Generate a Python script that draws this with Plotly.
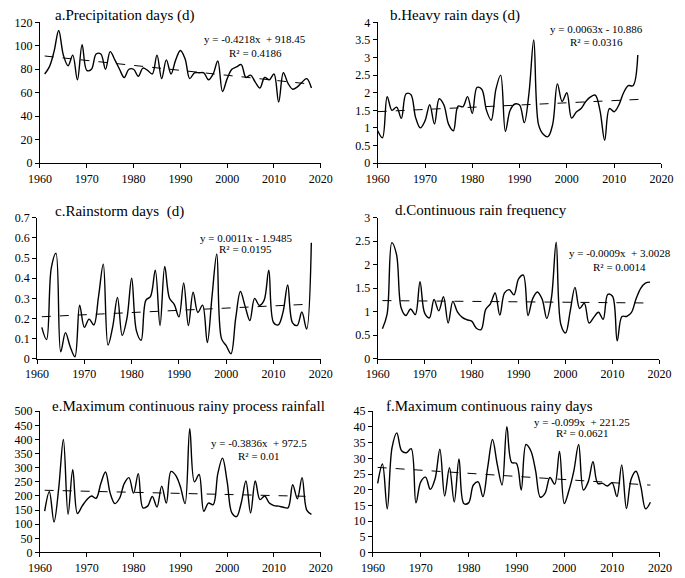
import plotly.graph_objects as go
from plotly.subplots import make_subplots

W, H = 685, 578

years = list(range(1961, 2019))
years_b = list(range(1960, 2016))

precip_days = [76, 82, 95, 113, 92, 83, 92, 71, 101, 79, 80, 93, 93, 80, 95, 88, 80, 73, 80, 80,
               74, 81, 79, 76, 92, 72, 88, 76, 88, 96, 89, 72, 77, 77, 77, 71, 76, 87, 61, 72,
               80, 82, 84, 73, 75, 69, 64, 73, 71, 76, 52, 77, 68, 63, 65, 69, 72, 64]

heavy_rain_days = [0.92, 0.72, 1.89, 1.50, 1.59, 1.27, 1.97, 1.95, 1.30, 1.00, 1.20, 1.66, 1.11, 1.83,
                   1.65, 1.10, 0.92, 1.62, 1.60, 1.89, 1.41, 2.15, 2.10, 1.50, 1.22, 2.10, 2.50, 0.90,
                   1.50, 1.68, 1.65, 1.15, 2.00, 3.50, 1.10, 0.82, 0.75, 1.10, 2.25, 1.75, 2.00, 1.28,
                   1.45, 1.55, 1.75, 1.88, 1.93, 1.50, 0.65, 1.55, 1.46, 1.65, 2.00, 2.20, 2.20, 3.07]

rainstorm_days = [0.156, 0.095, 0.45, 0.524, 0.035, 0.13, 0.06, 0.01, 0.266, 0.156, 0.197, 0.168,
                  0.31, 0.47, 0.068, 0.16, 0.305, 0.116, 0.2, 0.4, 0.14, 0.092, 0.29, 0.31, 0.44,
                  0.165, 0.458, 0.3, 0.27, 0.208, 0.377, 0.165, 0.33, 0.23, 0.266, 0.08, 0.31, 0.52,
                  0.1, 0.065, 0.025, 0.2, 0.334, 0.26, 0.19, 0.30, 0.265, 0.29, 0.44, 0.18, 0.168,
                  0.23, 0.366, 0.18, 0.165, 0.232, 0.148, 0.576]

cont_rain_freq = [0.64, 0.95, 2.47, 2.22, 1.08, 0.92, 1.06, 0.94, 1.64, 0.97, 0.87, 1.26, 1.02, 1.32,
                  0.76, 1.22, 0.99, 0.88, 0.83, 0.80, 0.65, 0.62, 1.05, 1.17, 1.40, 0.93, 1.40, 1.47,
                  1.36, 1.70, 1.78, 0.92, 1.28, 1.42, 1.27, 0.86, 1.30, 2.48, 0.73, 0.55, 1.02, 1.52,
                  1.07, 1.18, 0.76, 0.88, 0.99, 0.84, 1.37, 1.33, 0.38, 0.90, 0.90, 0.98, 1.27, 1.50,
                  1.61, 1.63]

max_cont_rainfall = [146, 215, 108, 227, 400, 135, 293, 138, 164, 187, 200, 192, 244, 285, 210, 173,
                     192, 244, 265, 210, 279, 158, 164, 198, 161, 235, 175, 287, 273, 233, 173, 438,
                     250, 276, 146, 175, 169, 279, 334, 250, 140, 127, 175, 253, 140, 253, 187, 200,
                     175, 166, 164, 160, 158, 240, 190, 265, 150, 135]

max_cont_days = [22, 28.2, 13.9, 33.4, 38.1, 32.4, 31.8, 33.1, 15.8, 22.5, 24, 20.1, 23.5, 32.9, 18,
                 27, 16.1, 29.8, 15.6, 15.8, 21.5, 22.5, 17.8, 27.2, 36, 28, 21.5, 40.1, 28.7, 28.4,
                 19.9, 34.4, 32.4, 26.1, 17.6, 18.9, 23.9, 21.8, 32.2, 15.6, 19.9, 26, 34.4, 19.9,
                 22.5, 28.9, 22, 22, 21.2, 22.2, 17.8, 27.9, 14, 23.5, 25.9, 21, 13.9, 16]

titles = ["a.Precipitation days (d)", "b.Heavy rain days (d)", "c.Rainstorm days  (d)",
          "d.Continuous rain frequency", "e.Maximum continuous rainy process rainfall",
          "f.Maximum continuous rainy days"]
slopes = [-0.4218, 0.0063, 0.0011, -0.0009, -0.3836, -0.099]
intercepts = [918.45, -10.886, -1.9485, 3.0028, 972.5, 221.25]
eq_texts = ["y = -0.4218x  + 918.45", "y = 0.0063x - 10.886", "y = 0.0011x - 1.9485",
            "y = -0.0009x  + 3.0028", "y = -0.3836x  + 972.5", "y = -0.099x  + 221.25"]
r2_texts = ["R² = 0.4186", "R² = 0.0316", "R² = 0.0195", "R² = 0.0014", "R² = 0.01", "R² = 0.0621"]
y_max = [120, 4, 0.7, 3, 500, 45]
y_dtick = [20, 0.5, 0.1, 0.5, 50, 5]

series = [(years, precip_days), (years_b, heavy_rain_days), (years, rainstorm_days),
          (years, cont_rain_freq), (years, max_cont_rainfall), (years, max_cont_days)]

# layout geometry in pixels: (x_left, x_right, y_top, y_bottom)
boxes = [(29, 320, 15.7, 160), (379, 673, 15.7, 160),
         (26, 320, 216, 360.5), (379, 671, 216, 360.5),
         (29, 320, 414.3, 559), (374, 671.5, 414.3, 559)]
title_pos = [(43, 8.5), (390, 8.5), (43, 210), (395, 208.5), (39, 409), (386, 408.5)]
eq_pos = [(252, 33, 47), (606, 22.5, 36), (242, 236.5, 248.5), (630, 252.5, 266), (256, 446.5, 460), (591, 425, 436.5)]

FONT = "Liberation Serif, Times New Roman, serif"

fig = make_subplots(rows=3, cols=2)
fig.update_layout(width=W, height=H, margin=dict(l=0, r=0, t=0, b=0),
                  paper_bgcolor="white", plot_bgcolor="white", showlegend=False,
                  font=dict(family=FONT, color="black", size=12))

annotations = []
for i in range(6):
    r, c = i // 2 + 1, i % 2 + 1
    xs, ys = series[i]
    fig.add_trace(go.Scatter(x=xs, y=ys, mode="lines",
                             line=dict(color="black", width=1.4, shape="spline", smoothing=1.0)),
                  row=r, col=c)
    x0, x1 = xs[0], xs[-1] + (0.5 if i == 1 else 0)
    fig.add_trace(go.Scatter(x=[x0, x1], y=[slopes[i] * x0 + intercepts[i], slopes[i] * x1 + intercepts[i]],
                             mode="lines", line=dict(color="black", width=1, dash="dash")),
                  row=r, col=c)
    xl, xr, yt, yb = boxes[i]
    fig.update_xaxes(domain=[xl / W, xr / W], range=[1960, 2020], dtick=10, tick0=1960,
                     showline=True, linecolor="black", linewidth=1, ticks="outside", ticklen=4,
                     tickcolor="black", showgrid=False, zeroline=False,
                     tickfont=dict(family=FONT, size=12, color="black"), row=r, col=c)
    fig.update_yaxes(domain=[1 - yb / H, 1 - yt / H], range=[0, y_max[i]], dtick=y_dtick[i], tick0=0,
                     showline=True, linecolor="black", linewidth=1, ticks="outside", ticklen=4,
                     tickcolor="black", showgrid=False, zeroline=False,
                     tickfont=dict(family=FONT, size=12, color="black"), row=r, col=c)
    tx, ty = title_pos[i]
    annotations.append(dict(x=tx / W, y=1 - ty / H, xref="paper", yref="paper", text=titles[i],
                            showarrow=False, xanchor="left", yanchor="middle",
                            font=dict(family=FONT, size=15, color="black")))
    ex, ey1, ey2 = eq_pos[i]
    annotations.append(dict(x=ex / W, y=1 - ey1 / H, xref="paper", yref="paper", text=eq_texts[i],
                            showarrow=False, xanchor="center", yanchor="middle",
                            font=dict(family=FONT, size=11, color="black")))
    annotations.append(dict(x=ex / W, y=1 - ey2 / H, xref="paper", yref="paper", text=r2_texts[i],
                            showarrow=False, xanchor="center", yanchor="middle",
                            font=dict(family=FONT, size=11, color="black")))

fig.update_layout(annotations=annotations)
fig.write_html("out.html", config={"displayModeBar": False},
               post_script="document.body.style.margin='0';document.body.style.overflow='hidden';")
